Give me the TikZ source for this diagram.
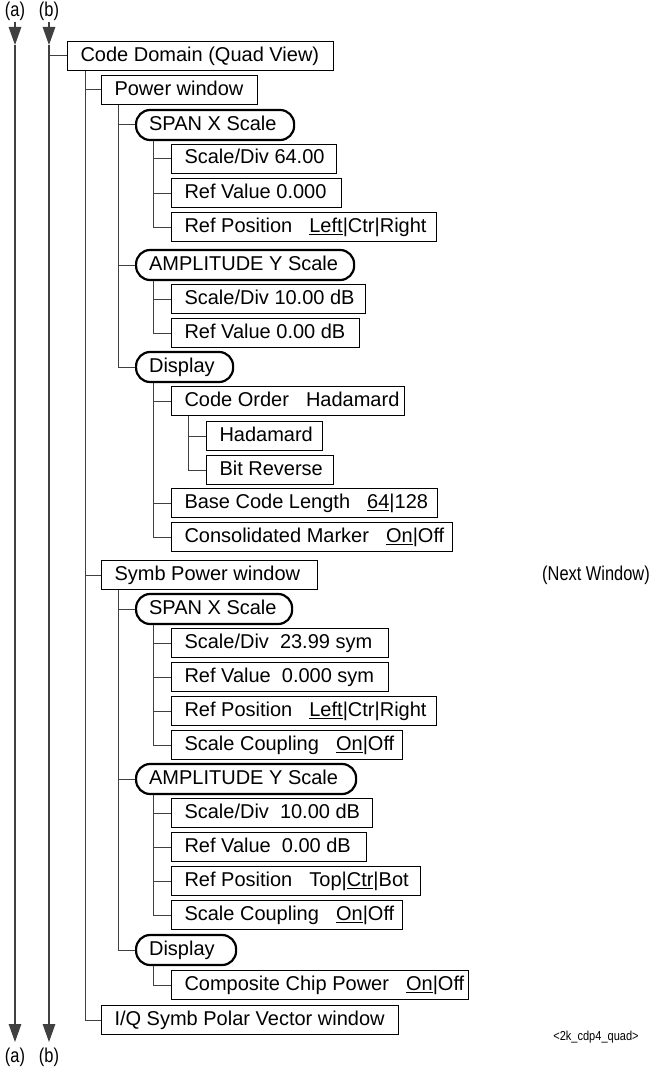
\documentclass[tikz,border=0pt]{standalone}
\usepackage{fontspec}
\setmainfont{Liberation Sans}
\usetikzlibrary{arrows.meta}
\newcommand\bigsp{\ \hspace{11.5pt}}
\newcommand\smsp{\ \hspace{5.5pt}}
\newcommand\ul[1]{\underline{#1}}
\tikzset{
  box/.style={draw, anchor=west, line width=1pt, inner xsep=13pt, inner ysep=0pt,
    minimum height=29pt, text height=14.5pt, text depth=4pt,
    font=\fontsize{20}{24}\selectfont,
    execute at begin node={\hbox to #1pt\bgroup},
    execute at end node={\hss\egroup}},
  rbox/.style={box=#1, line width=2.2pt, rounded corners=14pt, minimum height=30pt},
  conn/.style={draw=black!75, line width=1pt},
  flow/.style={draw=black!75, line width=1.4pt, -{Triangle[length=18pt,width=12.5pt]}},
  tag/.style={inner sep=0pt, font=\fontsize{20}{22}\selectfont},
}
\begin{document}
\begin{tikzpicture}[x=1pt,y=-1pt]
\useasboundingbox (0,0) rectangle (653,1070);
% flow labels and lines
\node[tag] (atop) at (15,11) {\scalebox{0.82}[1]{(a)}};
\node[tag] (btop) at (49,11) {\scalebox{0.82}[1]{(b)}};
\node[tag] (abot) at (15,1057) {\scalebox{0.82}[1]{(a)}};
\node[tag] (bbot) at (49,1057) {\scalebox{0.82}[1]{(b)}};
\coordinate (as) at (15,22);
\coordinate (bs) at (49,22);
\coordinate (at1) at (15,45);
\coordinate (bt1) at (49,45);
\coordinate (at2) at (15,1042);
\coordinate (bt2) at (49,1042);
\draw[flow] (as) -- (at1);
\draw[flow] (at1) -- (at2);
\draw[flow] (bs) -- (bt1);
\draw[flow] (bt1) -- (bt2);
% boxes
\node[box=240] (cd) at (67,56) {Code Domain (Quad View)};
\node[box=130] (pw) at (101,90) {Power window};
\node[rbox=132] (span1) at (135,125) {SPAN X Scale};
\node[box=139] (sd1) at (171,158.5) {Scale/Div 64.00};
\node[box=144] (rv1) at (171,193) {Ref Value 0.000};
\node[box=239] (rp1) at (171,227) {Ref Position\bigsp\ul{Left}|Ctr|Right};
\node[rbox=192] (amp1) at (135,265) {AMPLITUDE Y Scale};
\node[box=168] (sd2) at (171,299) {Scale/Div 10.00 dB};
\node[box=162] (rv2) at (171,333) {Ref Value 0.00 dB};
\node[rbox=71] (disp1) at (135,367) {Display};
\node[box=207] (co) at (171,401) {Code Order\bigsp Hadamard};
\node[box=90] (had) at (206,436) {Hadamard};
\node[box=101] (br) at (206,470) {Bit Reverse};
\node[box=240] (bcl) at (171,503) {Base Code Length\bigsp\ul{64}|128};
\node[box=255] (cm) at (171,537) {Consolidated Marker\bigsp\ul{On}|Off};
\node[box=190] (spw) at (101,575) {Symb Power window};
\node[rbox=130] (span2) at (135,609) {SPAN X Scale};
\node[box=191] (sd3) at (171,643) {Scale/Div\smsp 23.99 sym};
\node[box=191] (rv3) at (171,677) {Ref Value\smsp 0.000 sym};
\node[box=239] (rp3) at (171,711) {Ref Position\bigsp\ul{Left}|Ctr|Right};
\node[box=205] (sc1) at (171,745) {Scale Coupling\bigsp\ul{On}|Off};
\node[rbox=194] (amp2) at (135,779) {AMPLITUDE Y Scale};
\node[box=175] (sd4) at (171,813) {Scale/Div\smsp 10.00 dB};
\node[box=169] (rv4) at (171,847) {Ref Value\smsp 0.00 dB};
\node[box=223] (rp4) at (171,881) {Ref Position\bigsp Top|\ul{Ctr}|Bot};
\node[box=205] (sc2) at (171,915) {Scale Coupling\bigsp\ul{On}|Off};
\node[rbox=74] (disp2) at (135,950) {Display};
\node[box=271] (ccp) at (171,985) {Composite Chip Power\bigsp\ul{On}|Off};
\node[box=271] (iq) at (101,1020) {I/Q Symb Polar Vector window};
% side notes
\node[tag] (next) at (596,575) {\scalebox{0.82}[1]{(Next Window)}};
\node[tag, font=\fontsize{13}{15}\selectfont] (fig) at (596,1037) {\scalebox{0.85}[1]{<2k\_cdp4\_quad>}};
% connectors
\draw[conn] (cd.west -| bs) -- (cd.west);
\foreach \c in {pw,spw,iq} \draw[conn] ([xshift=18pt]cd.south west) |- (\c.west);
\foreach \c in {span1,amp1,disp1} \draw[conn] ([xshift=17pt]pw.south west) |- (\c.west);
\foreach \c in {sd1,rv1,rp1} \draw[conn] ([xshift=18pt]span1.south west) |- (\c.west);
\foreach \c in {sd2,rv2} \draw[conn] ([xshift=18pt]amp1.south west) |- (\c.west);
\foreach \c in {co,bcl,cm} \draw[conn] ([xshift=18pt]disp1.south west) |- (\c.west);
\foreach \c in {had,br} \draw[conn] ([xshift=17pt]co.south west) |- (\c.west);
\foreach \c in {span2,amp2,disp2} \draw[conn] ([xshift=17pt]spw.south west) |- (\c.west);
\foreach \c in {sd3,rv3,rp3,sc1} \draw[conn] ([xshift=18pt]span2.south west) |- (\c.west);
\foreach \c in {sd4,rv4,rp4,sc2} \draw[conn] ([xshift=18pt]amp2.south west) |- (\c.west);
\foreach \c in {ccp} \draw[conn] ([xshift=18pt]disp2.south west) |- (\c.west);
\end{tikzpicture}
\end{document}
